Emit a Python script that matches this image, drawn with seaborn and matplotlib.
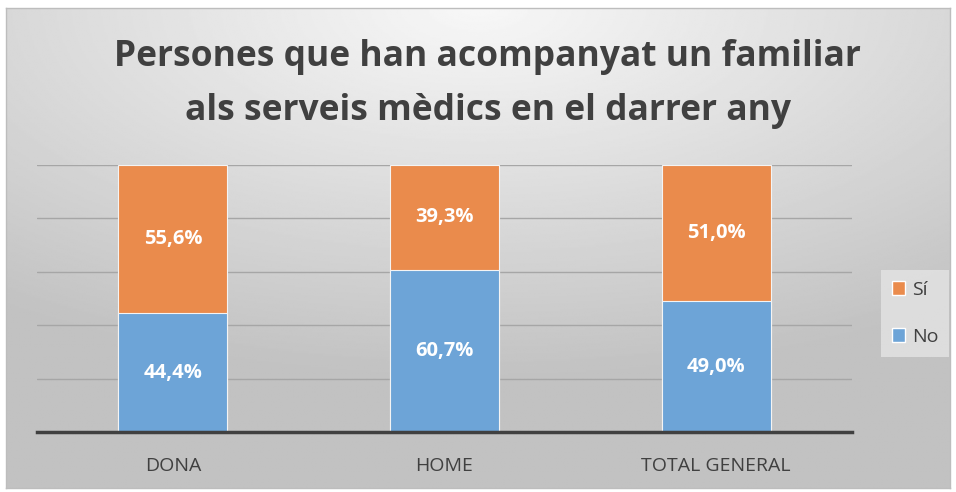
import numpy as np
import pandas as pd
import matplotlib
matplotlib.use('Agg')
import matplotlib.pyplot as plt
import seaborn as sns
from matplotlib.patches import Patch

# data
categories = ['DONA', 'HOME', 'TOTAL GENERAL']
pct_no = [44.4, 60.7, 49.0]
pct_si = [55.6, 39.3, 51.0]

col_si = '#EA8B4C'
col_no = '#6DA4D7'

sns.set_theme(style='white')
plt.rcParams['font.family'] = ['Open Sans', 'DejaVu Sans']

fig = plt.figure(figsize=(9.56, 4.92), dpi=100)

# radial gray gradient background
bg = fig.add_axes([0.006, 0.008, 0.988, 0.976])
yy, xx = np.mgrid[0:1:300j, 0:1:600j]
dist = np.sqrt(((xx - 0.5) * 1.0) ** 2 + ((yy - 0.0) * 1.1) ** 2)
shade = 0.97 - 0.21 * np.clip(dist / 0.85, 0, 1)
bg.imshow(shade, cmap='gray', vmin=0, vmax=1, aspect='auto', extent=[0, 1, 1, 0])
bg.set_xticks([])
bg.set_yticks([])
for s in bg.spines.values():
    s.set_color('#bdbdbd')
    s.set_linewidth(1)
bg.set_zorder(-10)

ax = fig.add_axes([37 / 956, 1 - 432 / 492, (852 - 37) / 956, (432 - 165) / 492])
ax.patch.set_alpha(0)

df = pd.DataFrame({'cat': categories, 'no': pct_no, 'si': pct_si})
df['total'] = df['no'] + df['si']

sns.barplot(data=df, x='cat', y='total', color=col_si, width=0.4, ax=ax,
            edgecolor='#f4f4f4', linewidth=0.8, saturation=1)
sns.barplot(data=df, x='cat', y='no', color=col_no, width=0.4, ax=ax,
            edgecolor='#f4f4f4', linewidth=0.8, saturation=1)

for i, (n, s) in enumerate(zip(pct_no, pct_si)):
    ax.text(i, n / 2, f'{n:.1f}%'.replace('.', ','), ha='center', va='center',
            color='white', fontsize=14.5, fontweight='bold')
    ax.text(i, n + s / 2, f'{s:.1f}%'.replace('.', ','), ha='center', va='center',
            color='white', fontsize=14.5, fontweight='bold')

ax.set_ylim(0, 100)
ax.set_xlim(-0.5, 2.5)
ax.set_yticks([20, 40, 60, 80, 100])
ax.yaxis.grid(True, color='#a6a6a6', linewidth=1)
ax.set_axisbelow(True)
ax.tick_params(axis='y', left=False, labelleft=False)
ax.tick_params(axis='x', bottom=False, labelsize=14, colors='#404040', pad=12)
ax.set_xlabel('')
ax.set_ylabel('')
for k in ['top', 'right', 'left']:
    ax.spines[k].set_visible(False)
ax.spines['bottom'].set_color('#404040')
ax.spines['bottom'].set_linewidth(2.5)

fig.text(0.51, 1 - 84 / 492, 'Persones que han acompanyat un familiar\nals serveis mèdics en el darrer any',
         ha='center', va='center', fontsize=25.5, fontweight='bold', color='#404040',
         linespacing=1.65)

# legend
handles = [Patch(facecolor=col_si, label='Sí'),
           Patch(facecolor=col_no, label='No')]
leg = fig.legend(handles=handles, loc='upper left', bbox_to_anchor=(881 / 956, 1 - 270 / 492),
                 frameon=True, fontsize=14, handlelength=0.7, handleheight=0.7,
                 handletextpad=0.35, labelspacing=1.5, borderpad=0.55, borderaxespad=0)
leg.get_frame().set_facecolor('#e4e4e4')
leg.get_frame().set_edgecolor('none')
leg.get_frame().set_boxstyle('square', pad=0)
for t in leg.get_texts():
    t.set_color('#404040')

fig.savefig('out.png', dpi=100, facecolor='white')
